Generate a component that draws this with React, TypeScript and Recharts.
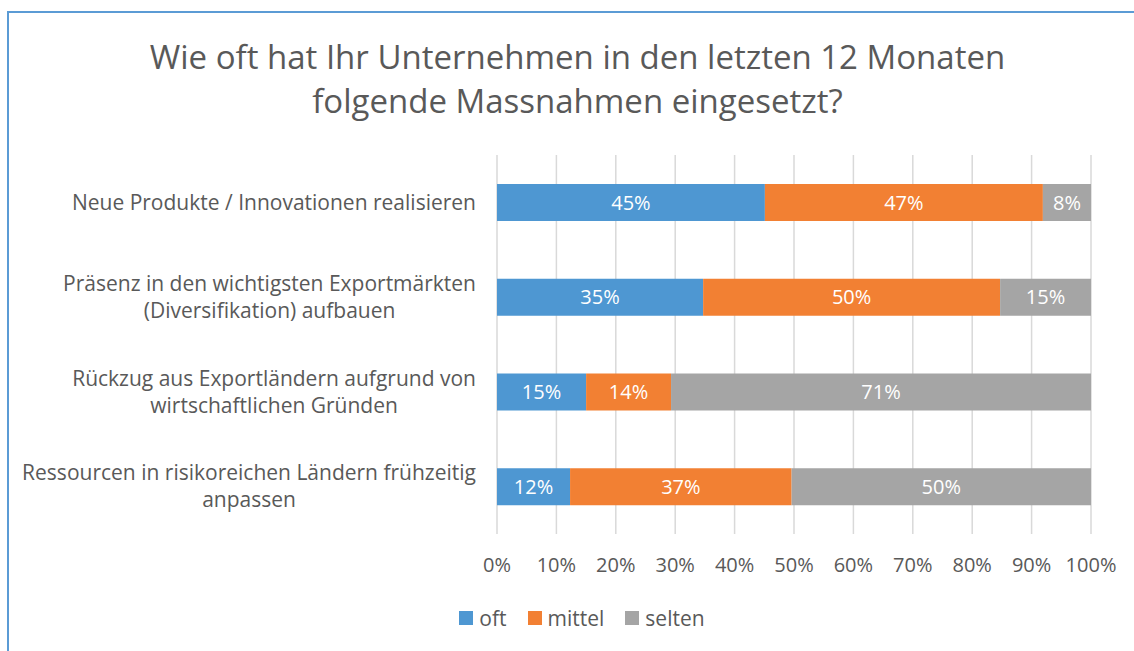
import React from "react";
import { Bar, BarChart, CartesianGrid, LabelList, XAxis, YAxis } from "recharts";

const categories = [
  "Neue Produkte / Innovationen realisieren",
  "Präsenz in den wichtigsten Exportmärkten\n(Diversifikation) aufbauen",
  "Rückzug aus Exportländern aufgrund von\nwirtschaftlichen Gründen",
  "Ressourcen in risikoreichen Ländern frühzeitig\nanpassen",
];

const oft = [45.1, 34.7, 15.0, 12.3];
const mittel = [46.8, 50.0, 14.3, 37.3];
const selten = [8.1, 15.3, 70.7, 50.4];

const xTicks = [0, 10, 20, 30, 40, 50, 60, 70, 80, 90, 100];

const seriesNames = ["oft", "mittel", "selten"];
const colors = ["#4E97D2", "#F28033", "#A5A5A5"];

const FONT = '"Open Sans", sans-serif';
const TEXT = "#595959";

const data = categories.map((name, i) => ({
  name,
  oft: oft[i],
  mittel: mittel[i],
  selten: selten[i],
}));

let ctx: CanvasRenderingContext2D | null = null;
const measure = (s: string) => {
  if (!ctx) {
    ctx = document.createElement("canvas").getContext("2d");
    if (ctx) ctx.font = `21px ${FONT}`;
  }
  return ctx ? ctx.measureText(s).width : s.length * 10;
};

const CategoryTick = (props: any) => {
  const { x, y, payload } = props;
  const lines = String(payload.value).split("\n");
  const maxW = Math.max(...lines.map(measure));
  const cx = x - maxW / 2;
  const lh = 27;
  const start = y - ((lines.length - 1) * lh) / 2;
  return (
    <g>
      {lines.map((l, i) => (
        <text
          key={i}
          x={cx}
          y={start + i * lh}
          dy="0.35em"
          textAnchor="middle"
          fill={TEXT}
          fontSize={21}
          fontFamily={FONT}
        >
          {l}
        </text>
      ))}
    </g>
  );
};

const pct = (v: any) => `${Math.round(Number(v))}%`;

export default function App() {
  return (
    <div style={{ position: "absolute", left: 0, top: 0, width: 1134, height: 651, overflow: "hidden", background: "#fff" }}>
      <div
        style={{
          position: "absolute",
          left: 7,
          top: 11,
          width: 1200,
          height: 700,
          border: "2px solid #5B9BD5",
        }}
      />
      <div
        style={{
          position: "absolute",
          left: 0,
          top: 35,
          width: 1155,
          textAlign: "center",
          fontFamily: FONT,
          fontSize: 33,
          lineHeight: "44px",
          color: TEXT,
        }}
      >
        Wie oft hat Ihr Unternehmen in den letzten 12 Monaten
        <br />
        folgende Massnahmen eingesetzt?
      </div>
      <div style={{ position: "absolute", left: 0, top: 0 }}>
        <BarChart
          width={1134}
          height={651}
          data={data}
          layout="vertical"
          margin={{ top: 155, right: 43, bottom: 57, left: 0 }}
          barSize={37}
        >
          <CartesianGrid horizontal={false} stroke="#D9D9D9" strokeWidth={1.5} />
          <XAxis
            type="number"
            domain={[0, 100]}
            ticks={xTicks}
            tickFormatter={(v) => `${v}%`}
            axisLine={false}
            tickLine={false}
            tickMargin={18}
            height={60}
            tick={{ fill: TEXT, fontSize: 20, fontFamily: FONT }}
            interval={0}
          />
          <YAxis
            type="category"
            dataKey="name"
            width={497}
            axisLine={false}
            tickLine={false}
            tickMargin={15}
            tick={<CategoryTick />}
          />
          {seriesNames.map((s, i) => (
            <Bar key={s} dataKey={s} stackId="a" fill={colors[i]} isAnimationActive={false}>
              <LabelList
                dataKey={s}
                position="center"
                formatter={pct}
                fill="#FFFFFF"
                fontSize={20}
                fontFamily={FONT}
              />
            </Bar>
          ))}
        </BarChart>
      </div>
      <div
        style={{
          position: "absolute",
          left: 0,
          top: 603,
          width: 1164,
          display: "flex",
          justifyContent: "center",
          fontFamily: FONT,
          fontSize: 21,
          lineHeight: "30px",
          color: TEXT,
        }}
      >
        {seriesNames.map((s, i) => (
          <div key={s} style={{ display: "flex", alignItems: "center", marginRight: i < 2 ? 21 : 0 }}>
            <span style={{ display: "inline-block", width: 14, height: 14, background: colors[i], marginRight: 6 }} />
            <span>{s}</span>
          </div>
        ))}
      </div>
    </div>
  );
}
